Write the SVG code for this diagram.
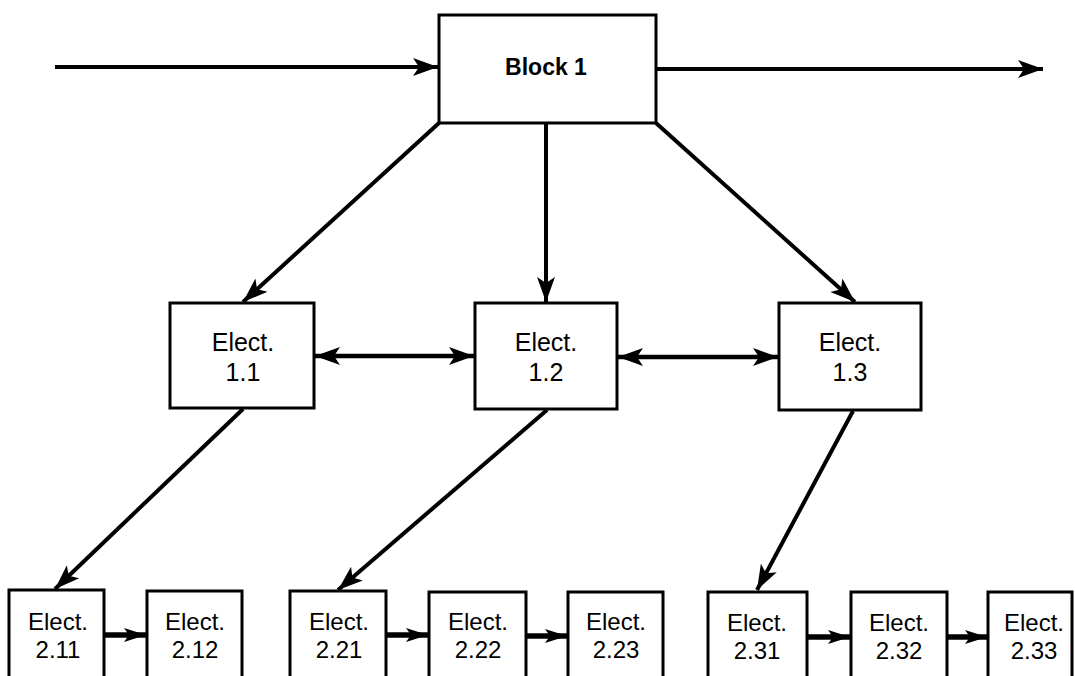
<svg xmlns="http://www.w3.org/2000/svg" width="1075" height="676" viewBox="0 0 1075 676">
<style>
.box{fill:#fff;stroke:#000;stroke-width:3}
.t{font-family:"Liberation Sans",Arial,sans-serif;fill:#000;text-anchor:middle}
.mid{font-size:25px}
.bot{font-size:24px}
.blk{font-size:23px;font-weight:bold}
.c{stroke:#000;stroke-width:4;fill:none;marker-end:url(#ah)}
.d{stroke:#000;stroke-width:4.5;fill:none;marker-end:url(#ah);marker-start:url(#ah)}
.s{stroke:#000;stroke-width:5.5;fill:none;marker-end:url(#ahs)}
</style>
<defs>
<marker id="ah" markerUnits="userSpaceOnUse" markerWidth="28" markerHeight="20" refX="25" refY="10" orient="auto-start-reverse">
<path d="M0,1 L25,10 L0,19 L6,10 z" fill="#000"/>
</marker>
<marker id="ahs" markerUnits="userSpaceOnUse" markerWidth="24" markerHeight="16" refX="22" refY="8" orient="auto">
<path d="M0,1 L22,8 L0,15 L5,8 z" fill="#000"/>
</marker>
</defs>
<g id="connectors">
<line class="c" x1="55" y1="67" x2="438" y2="67"/>
<line class="c" x1="656" y1="69" x2="1043" y2="69"/>
<line class="c" x1="439" y1="123" x2="243" y2="302"/>
<line class="c" x1="546" y1="123" x2="546" y2="302"/>
<line class="c" x1="656" y1="123" x2="855" y2="302"/>
<line class="d" x1="315" y1="356" x2="474" y2="356"/>
<line class="d" x1="618" y1="357" x2="778" y2="357"/>
<line class="c" x1="243" y1="409" x2="55" y2="589"/>
<line class="c" x1="547" y1="410" x2="338" y2="590"/>
<line class="c" x1="853" y1="411" x2="757" y2="590"/>
<line class="s" x1="104" y1="635" x2="146" y2="635"/>
<line class="s" x1="386" y1="635" x2="428" y2="635"/>
<line class="s" x1="526" y1="636" x2="567" y2="636"/>
<line class="s" x1="807" y1="637" x2="850" y2="637"/>
<line class="s" x1="947" y1="637" x2="987" y2="637"/>
</g>
<g id="block1"><rect class="box" x="439" y="15" width="217" height="108"/><text class="t blk" x="546" y="75">Block 1</text></g>
<g id="e11"><rect class="box" x="170" y="303" width="144" height="105"/><text class="t mid" x="243" y="351">Elect.</text><text class="t mid" x="243" y="381">1.1</text></g>
<g id="e12"><rect class="box" x="475" y="303" width="142" height="106"/><text class="t mid" x="546" y="351">Elect.</text><text class="t mid" x="546" y="381">1.2</text></g>
<g id="e13"><rect class="box" x="779" y="303" width="142" height="107"/><text class="t mid" x="850" y="351">Elect.</text><text class="t mid" x="850" y="381">1.3</text></g>
<g id="e211"><rect class="box" x="9" y="590" width="95" height="100"/><text class="t bot" x="58" y="630">Elect.</text><text class="t bot" x="58" y="658">2.11</text></g>
<g id="e212"><rect class="box" x="147" y="591" width="95" height="100"/><text class="t bot" x="195" y="630">Elect.</text><text class="t bot" x="195" y="658">2.12</text></g>
<g id="e221"><rect class="box" x="290" y="591" width="96" height="100"/><text class="t bot" x="339" y="630">Elect.</text><text class="t bot" x="339" y="658">2.21</text></g>
<g id="e222"><rect class="box" x="429" y="592" width="97" height="100"/><text class="t bot" x="478" y="630">Elect.</text><text class="t bot" x="478" y="658">2.22</text></g>
<g id="e223"><rect class="box" x="568" y="592" width="95" height="100"/><text class="t bot" x="616" y="630">Elect.</text><text class="t bot" x="616" y="658">2.23</text></g>
<g id="e231"><rect class="box" x="708" y="592" width="99" height="100"/><text class="t bot" x="757" y="631">Elect.</text><text class="t bot" x="757" y="659">2.31</text></g>
<g id="e232"><rect class="box" x="851" y="592" width="96" height="100"/><text class="t bot" x="899" y="631">Elect.</text><text class="t bot" x="899" y="659">2.32</text></g>
<g id="e233"><rect class="box" x="988" y="592" width="84" height="100"/><text class="t bot" x="1034" y="631">Elect.</text><text class="t bot" x="1034" y="659">2.33</text></g>
</svg>
